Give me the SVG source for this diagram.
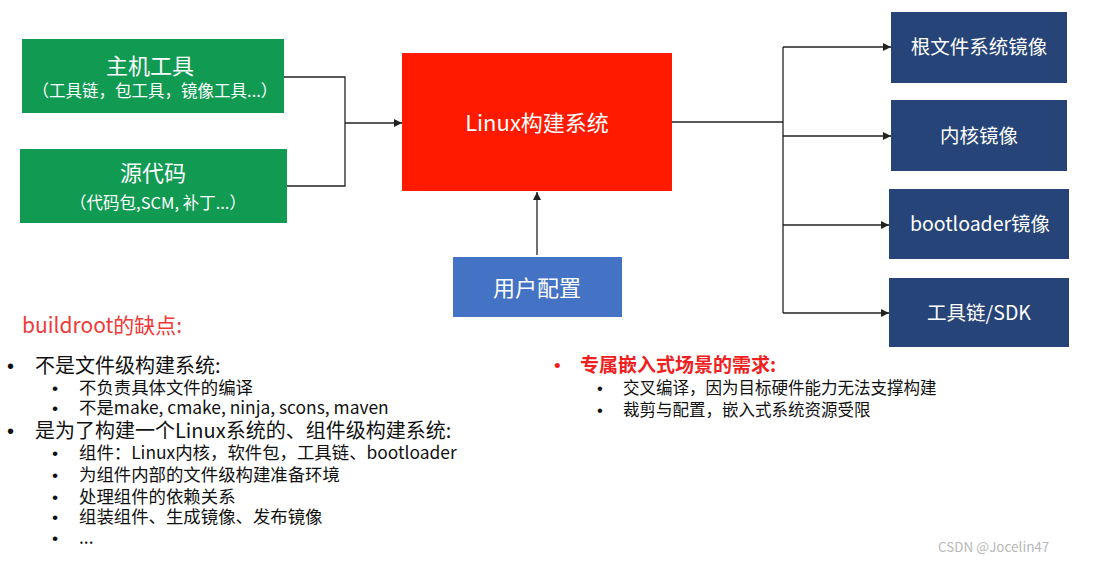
<svg xmlns="http://www.w3.org/2000/svg" width="1093" height="562" viewBox="0 0 1093 562">
<defs>
<style>
text{font-family:"Noto Sans CJK SC","Noto Sans",sans-serif;}
.w{fill:#fff;text-anchor:middle;}
.t{fill:#111;}
.b{font-family:"Liberation Sans",sans-serif;}
.l1{font-size:20px;}
.l2{font-size:17.4px;}
.line{fill:none;stroke:#222;stroke-width:1.3;}
.green{fill:#109A52;}
.navy{fill:#264478;}
</style>
<marker id="ah" viewBox="0 0 10 10" refX="10" refY="5" markerWidth="8" markerHeight="8" markerUnits="userSpaceOnUse" orient="auto">
<path d="M0,0 L10,5 L0,10 z" fill="#222"/>
</marker>
</defs>
<rect width="1093" height="562" fill="#fff"/>
<g id="connectors">
<path class="line" d="M284,77 H345 V186 H287"/>
<path class="line" d="M345,123 H402" marker-end="url(#ah)"/>
<path class="line" d="M537,255 V192" marker-end="url(#ah)"/>
<path class="line" d="M672,122 H783"/>
<path class="line" d="M783,47 V313"/>
<path class="line" d="M783,47 H891" marker-end="url(#ah)"/>
<path class="line" d="M783,136 H891" marker-end="url(#ah)"/>
<path class="line" d="M783,225 H889" marker-end="url(#ah)"/>
<path class="line" d="M783,313 H889" marker-end="url(#ah)"/>
</g>
<g id="host-tools">
<rect class="green" x="22" y="39" width="262" height="74"/>
<text class="w" x="150" y="74" font-size="22">主机工具</text>
<text class="w" x="155" y="97" font-size="16.5">（工具链，包工具，镜像工具...）</text>
</g>
<g id="source-code">
<rect class="green" x="20" y="149" width="267" height="74"/>
<text class="w" x="153" y="181" font-size="22">源代码</text>
<text class="w" x="158" y="209" font-size="16.5">（代码包,SCM, 补丁...）</text>
</g>
<g id="linux-build">
<rect x="402" y="53" width="270" height="138" fill="#FF1A00"/>
<text class="w" x="537" y="131" font-size="22">Linux构建系统</text>
</g>
<g id="user-config">
<rect x="453" y="257" width="169" height="60" fill="#4472C4"/>
<text class="w" x="537" y="296" font-size="22">用户配置</text>
</g>
<g id="rootfs">
<rect class="navy" x="891" y="12" width="176" height="71"/>
<text class="w" x="979" y="54" font-size="19.5">根文件系统镜像</text>
</g>
<g id="kernel">
<rect class="navy" x="891" y="100" width="176" height="71"/>
<text class="w" x="979" y="143" font-size="19.5">内核镜像</text>
</g>
<g id="bootloader">
<rect class="navy" x="889" y="189" width="180" height="70"/>
<text class="w" x="980" y="231" font-size="19.5">bootloader镜像</text>
</g>
<g id="toolchain">
<rect class="navy" x="889" y="278" width="180" height="69"/>
<text class="w" x="979" y="320" font-size="19.5">工具链/SDK</text>
</g>
<g id="notes-left">
<text x="22" y="333" font-size="21" fill="#F03A3A">buildroot的缺点:</text>
<text class="t">
<tspan class="b l1" x="7" y="373">•</tspan><tspan class="l1" x="35" y="373">不是文件级构建系统:</tspan>
<tspan class="b l2" x="52" y="394">•</tspan><tspan class="l2" x="79" y="394">不负责具体文件的编译</tspan>
<tspan class="b l2" x="52" y="414">•</tspan><tspan class="l2" x="79" y="414">不是make, cmake, ninja, scons, maven</tspan>
<tspan class="b l1" x="7" y="438">•</tspan><tspan class="l1" x="35" y="438">是为了构建一个Linux系统的、组件级构建系统:</tspan>
<tspan class="b l2" x="52" y="459">•</tspan><tspan class="l2" x="79" y="459">组件：Linux内核，软件包，工具链、bootloader</tspan>
<tspan class="b l2" x="52" y="481">•</tspan><tspan class="l2" x="79" y="481">为组件内部的文件级构建准备环境</tspan>
<tspan class="b l2" x="52" y="503">•</tspan><tspan class="l2" x="79" y="503">处理组件的依赖关系</tspan>
<tspan class="b l2" x="52" y="523">•</tspan><tspan class="l2" x="79" y="523">组装组件、生成镜像、发布镜像</tspan>
<tspan class="b l2" x="52" y="544">•</tspan><tspan class="l2" x="79" y="544">...</tspan>
</text>
</g>
<g id="notes-right">
<text fill="#F02020"><tspan class="b" font-size="19" x="554" y="372">•</tspan><tspan font-size="19" font-weight="bold" x="580" y="372">专属嵌入式场景的需求:</tspan></text>
<text class="t">
<tspan class="b" font-size="16.5" x="597" y="394">•</tspan><tspan font-size="16.5" x="623" y="394">交叉编译，因为目标硬件能力无法支撑构建</tspan>
<tspan class="b" font-size="16.5" x="597" y="416">•</tspan><tspan font-size="16.5" x="623" y="416">裁剪与配置，嵌入式系统资源受限</tspan>
</text>
</g>
<text x="938" y="552" font-size="13.5" fill="#B8B8B8">CSDN @Jocelin47</text>
</svg>
